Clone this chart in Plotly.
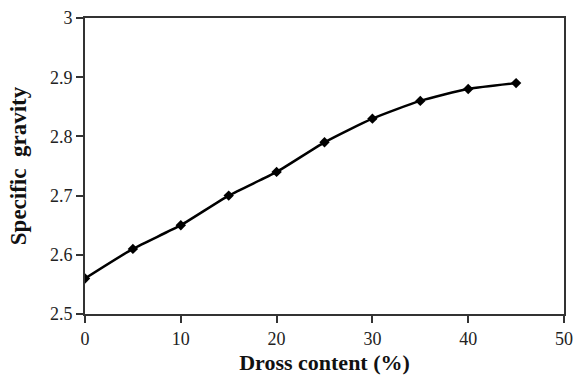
import plotly.graph_objects as go

dross = [0, 5, 10, 15, 20, 25, 30, 35, 40, 45]
sg = [2.56, 2.61, 2.65, 2.70, 2.74, 2.79, 2.83, 2.86, 2.88, 2.89]
xticks = [0, 10, 20, 30, 40, 50]
yticks = [2.5, 2.6, 2.7, 2.8, 2.9, 3.0]
ytick_text = ["2.5", "2.6", "2.7", "2.8", "2.9", "3"]

fig = go.Figure()
fig.add_trace(go.Scatter(
    x=dross, y=sg, mode="lines+markers",
    line=dict(color="black", width=2.5, shape="spline", smoothing=0.6),
    marker=dict(symbol="diamond", size=8, color="black"),
    showlegend=False,
))

font = "Liberation Serif"
fig.update_layout(
    width=577, height=379,
    margin=dict(l=85, r=13, t=18, b=65),
    plot_bgcolor="white", paper_bgcolor="white",
    font=dict(family=font, size=18, color="#222"),
)
fig.update_xaxes(
    range=[0, 50], tickvals=xticks, ticks="outside", ticklen=7, tickwidth=1.5,
    tickfont=dict(family=font, size=18, color="#222"), automargin=False,
    tickcolor="#333", showline=True, linecolor="#333", linewidth=2, mirror=True,
    showgrid=False, zeroline=False,
    title=dict(text="<b>Dross content (%)</b>", font=dict(size=22, family=font, color="#111"), standoff=7),
)
fig.update_yaxes(
    range=[2.5, 3.0], tickvals=yticks, ticktext=ytick_text, ticks="outside", ticklen=7,
    tickfont=dict(family=font, size=18, color="#222"), automargin=False,
    tickwidth=1.5, tickcolor="#333", showline=True, linecolor="#333", linewidth=2,
    mirror=True, showgrid=False, zeroline=False,
    title=dict(text="<b>Specific\u00a0\u00a0gravity</b>", font=dict(size=23, family=font, color="#111"), standoff=17),
)
fig.write_html(
    "out.html",
    config={"displayModeBar": False},
    post_script="document.body.style.margin='0';document.body.style.overflow='hidden';",
)
